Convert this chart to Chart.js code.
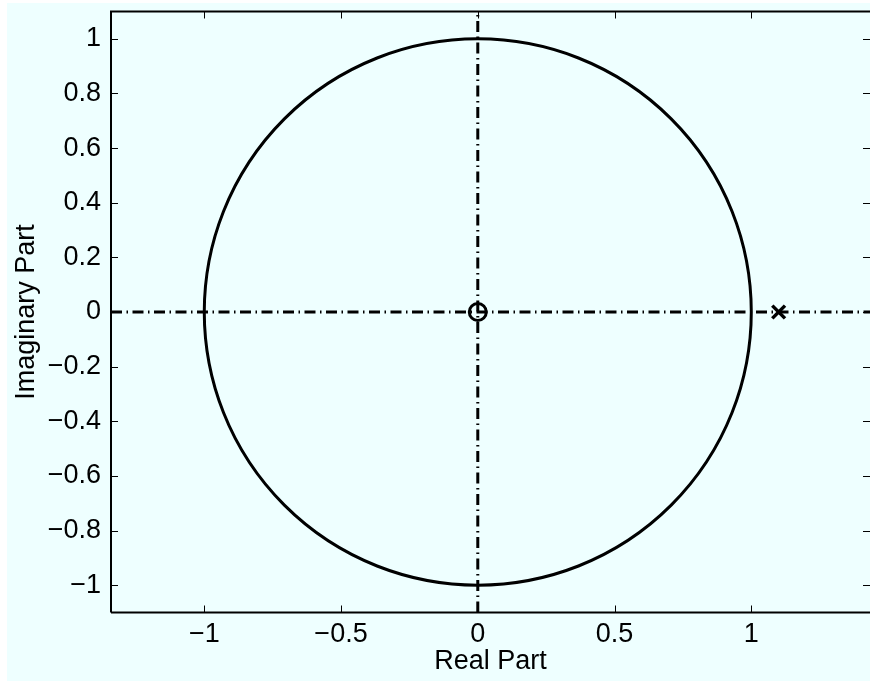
<!DOCTYPE html>
<html>
<head>
<meta charset="utf-8">
<title>Pole-zero plot</title>
<script src="https://cdn.jsdelivr.net/npm/chart.js@4.4.1/dist/chart.umd.min.js"></script>
<style>
    html, body { margin: 0; padding: 0; background: #ffffff; }
    #pz { display: block; }
</style>
</head>
<body>
<canvas id="pz" width="870" height="681" style="width:870px;height:681px"></canvas>
<script>
    "use strict";

    // Axis limits and ticks
    var xLimits = [-1.341, 1.434];
    var yLimits = [-1.1, 1.1];
    var xTicks = [-1, -0.5, 0, 0.5, 1];
    var yTicks = [-1, -0.8, -0.6, -0.4, -0.2, 0, 0.2, 0.4, 0.6, 0.8, 1];

    // Zeros and poles
    var zerosRe = [0];
    var zerosIm = [0];
    var polesRe = [1.1];
    var polesIm = [0];

    // Unit circle (center + radius)
    var circleCenter = [0, 0];
    var circleRadius = [1];

    var FONT = "'Liberation Sans', Arial, Helvetica, sans-serif";
    var BG = "rgb(238, 255, 255)";

    function pts(xs, ys) {
        return xs.map(function (x, i) { return {x: x, y: ys[i]}; });
    }

    function fmt(v) {
        var s = String(Math.round(v * 100) / 100);
        return s.replace('-', '\u2212');
    }

    function noPad(s) {
        s.paddingTop = 0;
        s.paddingBottom = 0;
        s.paddingLeft = 0;
        s.paddingRight = 0;
    }

    // Background + frame + inside ticks + unit circle
    var decor = {
        id: 'decor',
        beforeDraw: function (chart) {
            var ctx = chart.ctx;
            ctx.save();
            ctx.fillStyle = BG;
            ctx.fillRect(7, 3, chart.width - 7, chart.height - 3);
            ctx.restore();
        },
        beforeDatasetsDraw: function (chart) {
            var ctx = chart.ctx, xs = chart.scales.x, ys = chart.scales.y;
            var a = chart.chartArea;
            var cx = xs.getPixelForValue(circleCenter[0]);
            var cy = ys.getPixelForValue(circleCenter[1]);
            var rx = xs.getPixelForValue(circleCenter[0] + circleRadius[0]) - cx;
            var ry = cy - ys.getPixelForValue(circleCenter[1] + circleRadius[0]);
            ctx.save();
            ctx.beginPath();
            ctx.rect(a.left, a.top, a.right - a.left, a.bottom - a.top);
            ctx.clip();
            ctx.beginPath();
            ctx.ellipse(cx, cy, rx, ry, 0, 0, Math.PI * 2);
            ctx.lineWidth = 3;
            ctx.strokeStyle = '#000';
            ctx.stroke();
            ctx.restore();
        },
        afterDraw: function (chart) {
            var ctx = chart.ctx, xs = chart.scales.x, ys = chart.scales.y;
            var a = chart.chartArea;
            var tl = 7;
            ctx.save();
            ctx.strokeStyle = '#000';
            ctx.lineWidth = 1;
            xTicks.forEach(function (v) {
                var px = Math.round(xs.getPixelForValue(v)) + 0.5;
                ctx.beginPath();
                ctx.moveTo(px, a.bottom); ctx.lineTo(px, a.bottom - tl);
                ctx.moveTo(px, a.top); ctx.lineTo(px, a.top + tl);
                ctx.stroke();
            });
            yTicks.forEach(function (v) {
                var py = Math.round(ys.getPixelForValue(v)) + 0.5;
                ctx.beginPath();
                ctx.moveTo(a.left, py); ctx.lineTo(a.left + tl, py);
                ctx.moveTo(a.right, py); ctx.lineTo(a.right - tl, py);
                ctx.stroke();
            });
            ctx.lineWidth = 2;
            ctx.beginPath();
            ctx.moveTo(a.left, a.bottom);
            ctx.lineTo(a.left, a.top);
            ctx.lineTo(a.right, a.top);
            ctx.moveTo(a.left, a.bottom);
            ctx.lineTo(a.right, a.bottom);
            ctx.stroke();
            ctx.restore();
        }
    };

    var dashDot = [11, 4.5, 1.5, 4.5];

    var ctx = document.getElementById('pz').getContext('2d');
    var chart = new Chart(ctx, {
        type: 'scatter',
        data: {
            datasets: [{
                label: 'Zeros',
                data: pts(zerosRe, zerosIm),
                pointStyle: 'circle',
                pointRadius: 8.5,
                borderColor: '#000',
                backgroundColor: 'rgba(0,0,0,0)',
                borderWidth: 3,
                showLine: false
            }, {
                label: 'Poles',
                data: pts(polesRe, polesIm),
                pointStyle: 'crossRot',
                pointRadius: 9,
                borderColor: '#000',
                borderWidth: 3.5,
                showLine: false
            }, {
                label: 'Real axis',
                data: pts(xLimits, [0, 0]),
                showLine: true,
                borderColor: '#000',
                borderWidth: 3,
                borderDash: dashDot,
                pointRadius: 0
            }, {
                label: 'Imag axis',
                data: pts([0, 0], yLimits),
                showLine: true,
                borderColor: '#000',
                borderWidth: 3,
                borderDash: dashDot,
                pointRadius: 0
            }]
        },
        options: {
            responsive: false,
            maintainAspectRatio: false,
            devicePixelRatio: 1,
            animation: false,
            layout: {
                autoPadding: false,
                padding: { top: 11.5, right: 0, left: 0, bottom: 0 }
            },
            plugins: {
                legend: { display: false },
                tooltip: { enabled: false }
            },
            scales: {
                x: {
                    type: 'linear',
                    min: xLimits[0],
                    max: xLimits[1],
                    grid: { display: false, drawTicks: false },
                    border: { display: false },
                    afterBuildTicks: function (s) {
                        s.ticks = xTicks.map(function (v) { return {value: v}; });
                    },
                    afterFit: function (s) { s.height = 68.5; noPad(s); },
                    ticks: {
                        color: '#000',
                        padding: 6,
                        maxRotation: 0,
                        autoSkip: false,
                        font: { family: FONT, size: 27 },
                        callback: function (v) { return fmt(v); }
                    },
                    title: {
                        display: true,
                        text: 'Real Part',
                        color: '#000',
                        padding: 3,
                        font: { family: FONT, size: 27 }
                    }
                },
                y: {
                    type: 'linear',
                    min: yLimits[0],
                    max: yLimits[1],
                    grid: { display: false, drawTicks: false },
                    border: { display: false },
                    afterBuildTicks: function (s) {
                        s.ticks = yTicks.map(function (v) { return {value: v}; });
                    },
                    afterFit: function (s) { s.width = 111; noPad(s); },
                    ticks: {
                        color: '#000',
                        padding: 10,
                        autoSkip: false,
                        font: { family: FONT, size: 27 },
                        callback: function (v) { return fmt(v); }
                    },
                    title: {
                        display: true,
                        text: 'Imaginary Part',
                        color: '#000',
                        padding: 10.8,
                        font: { family: FONT, size: 27 }
                    }
                }
            }
        },
        plugins: [decor]
    });
</script>
</body>
</html>
